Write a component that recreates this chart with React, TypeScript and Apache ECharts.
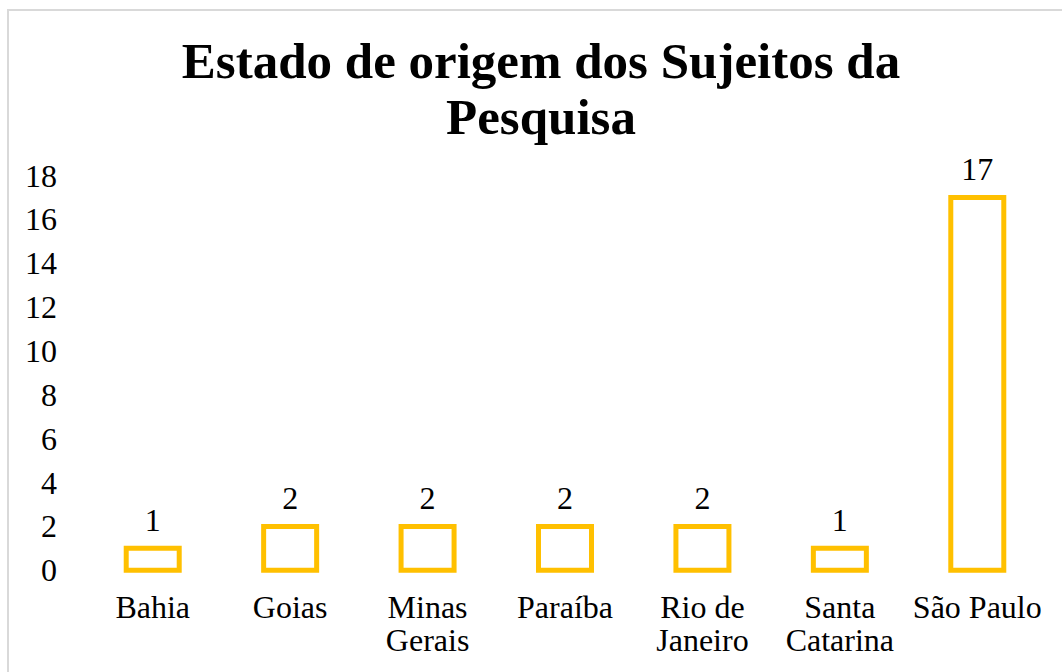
import React, { useEffect, useRef } from "react";
import * as echarts from "echarts";

const categories = ["Bahia", "Goias", "Minas\nGerais", "Paraíba", "Rio de\nJaneiro", "Santa\nCatarina", "São Paulo"];
const values = [1, 2, 2, 2, 2, 1, 17];
const yMin = 0;
const yMax = 18;
const yInterval = 2;
const titleText = "Estado de origem dos Sujeitos da\nPesquisa";

const FONT = "'Liberation Serif', 'Times New Roman', serif";

export default function App() {
  const ref = useRef<HTMLDivElement>(null);
  useEffect(() => {
    if (!ref.current) return;
    const chart = echarts.init(ref.current, null, { renderer: "svg" });
    const BAR_W = 53;
    chart.setOption({
      animation: false,
      backgroundColor: "#ffffff",
      title: {
        text: titleText,
        left: 536,
        textAlign: "center",
        top: 28,
        textStyle: {
          fontFamily: FONT,
          fontWeight: "bold",
          fontSize: 51,
          lineHeight: 56,
          color: "#000000",
        },
      },
      grid: { left: 84, right: 16, top: 175.6, bottom: 672 - 570.3 },
      xAxis: {
        type: "category",
        data: categories,
        axisLine: { show: false },
        axisTick: { show: false },
        axisLabel: {
          fontFamily: FONT,
          fontSize: 32,
          lineHeight: 33,
          color: "#000000",
          margin: 20,
          interval: 0,
        },
      },
      yAxis: {
        type: "value",
        min: yMin,
        max: yMax,
        interval: yInterval,
        axisLine: { show: false },
        axisTick: { show: false },
        splitLine: { show: false },
        axisLabel: {
          fontFamily: FONT,
          fontSize: 32,
          color: "#000000",
          margin: 27,
        },
      },
      series: [
        {
          type: "custom",
          data: values.map((v, i) => [i, v]),
          encode: { x: 0, y: 1 },
          renderItem: (params: any, api: any) => {
            const idx = api.value(0);
            const v = api.value(1);
            const top = api.coord([idx, v]);
            const base = api.coord([idx, 0]);
            return {
              type: "rect",
              shape: {
                x: top[0] - BAR_W / 2,
                y: top[1],
                width: BAR_W,
                height: base[1] - top[1],
              },
              style: { fill: "#ffffff", stroke: "#FFC000", lineWidth: 5 },
              textContent: {
                type: "text",
                style: {
                  text: String(v),
                  fontFamily: FONT,
                  fontSize: 32,
                  fill: "#000000",
                },
              },
              textConfig: { position: "top", distance: 10 },
            };
          },
        },
      ],
    });
    return () => chart.dispose();
  }, []);
  return (
    <div style={{ position: "fixed", left: 0, top: 0, width: 1062, height: 672, overflow: "hidden", background: "#fff" }}>
      <div ref={ref} style={{ position: "absolute", left: 0, top: 0, width: 1062, height: 672 }} />
      <div
        style={{
          position: "absolute",
          left: 7,
          top: 9,
          width: 2000,
          height: 2000,
          borderLeft: "2px solid #d9d9d9",
          borderTop: "2px solid #d9d9d9",
          pointerEvents: "none",
        }}
      />
    </div>
  );
}
